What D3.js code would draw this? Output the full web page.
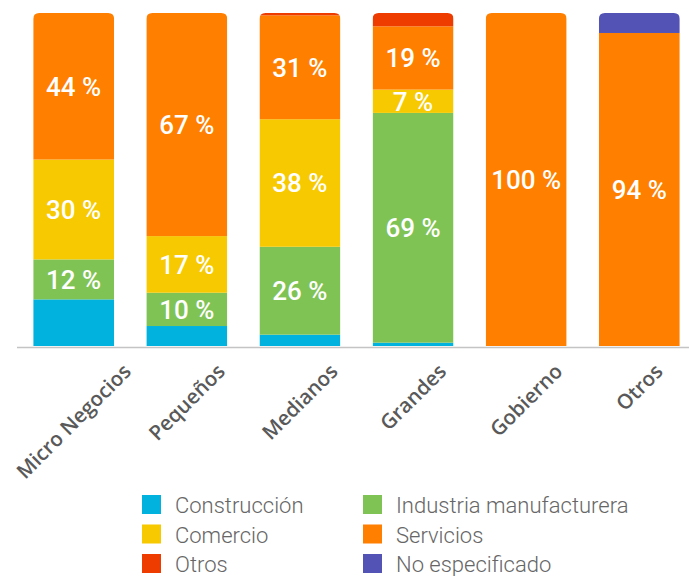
<!DOCTYPE html>
<html>
<head>
<meta charset="utf-8">
<script src="https://cdn.jsdelivr.net/npm/d3@7"></script>
<style>
  body { margin: 0; background: #fff; }
  svg { display: block; }
</style>
</head>
<body>
<svg id="chart" width="689" height="576"></svg>
<script>
// categories on the x axis
var categories = ['Micro Negocios', 'Pequeños', 'Medianos', 'Grandes', 'Gobierno', 'Otros'];

// share of each sector per category (%), bottom to top
var construccion = [14, 6, 3.4, 1, 0, 0];
var industria = [12, 10, 26.4, 69, 0, 0];
var comercio = [30, 17, 38.3, 7, 0, 0];
var servicios = [44, 67, 31.2, 19, 100, 94];
var otros = [0, 0, 0.7, 4, 0, 0];
var noEspecificado = [0, 0, 0, 0, 0, 6];

var seriesKeys = ['construccion', 'industria', 'comercio', 'servicios', 'otros', 'noEspecificado'];
var seriesNames = ['Construcción', 'Industria manufacturera', 'Comercio', 'Servicios', 'Otros', 'No especificado'];
var seriesColors = ['#00b2dd', '#80c355', '#f7c900', '#ff7f00', '#ee3c00', '#5353b5'];
// only these get a value label inside the bar
var labelled = ['industria', 'comercio', 'servicios'];

var seriesValues = {
  construccion: construccion,
  industria: industria,
  comercio: comercio,
  servicios: servicios,
  otros: otros,
  noEspecificado: noEspecificado
};

var table = categories.map(function(c, i) {
  var row = { cat: c };
  seriesKeys.forEach(function(k) { row[k] = seriesValues[k][i]; });
  return row;
});

var svg = d3.select('#chart');

var x = d3.scaleBand()
  .domain(categories)
  .range([1, 712])
  .paddingInner(0.285)
  .paddingOuter(0.285);

var y = d3.scaleLinear()
  .domain([0, 100])
  .range([346, 13]);

var color = d3.scaleOrdinal().domain(seriesKeys).range(seriesColors);

var stacked = d3.stack().keys(seriesKeys)(table);

// clip each bar so only the top corners are rounded
var r = 6;
var defs = svg.append('defs');
categories.forEach(function(c, i) {
  var x0 = x(c), x1 = x(c) + x.bandwidth(), top = y(100), bot = y(0);
  defs.append('clipPath')
    .attr('id', 'clip' + i)
    .append('path')
    .attr('d', 'M' + x0 + ',' + bot +
      'V' + (top + r) + 'Q' + x0 + ',' + top + ' ' + (x0 + r) + ',' + top +
      'H' + (x1 - r) + 'Q' + x1 + ',' + top + ' ' + x1 + ',' + (top + r) +
      'V' + bot + 'Z');
});

var bars = svg.append('g');
categories.forEach(function(c, i) {
  var g = bars.append('g').attr('clip-path', 'url(#clip' + i + ')');
  stacked.forEach(function(s) {
    var d = s[i];
    if (d[1] - d[0] <= 0) return;
    g.append('rect')
      .attr('x', x(c))
      .attr('y', y(d[1]))
      .attr('width', x.bandwidth())
      .attr('height', y(d[0]) - y(d[1]))
      .attr('fill', color(s.key));
  });
});

// value labels
var labels = svg.append('g')
  .attr('font-family', 'Roboto, sans-serif')
  .attr('font-weight', 500)
  .attr('font-size', 26)
  .attr('fill', '#fff')
  .attr('text-anchor', 'middle');
stacked.forEach(function(s) {
  if (labelled.indexOf(s.key) < 0) return;
  s.forEach(function(d, i) {
    var v = d[1] - d[0];
    if (v <= 0) return;
    var mid = (y(d[0]) + y(d[1])) / 2;
    labels.append('text')
      .attr('x', x(categories[i]) + x.bandwidth() / 2)
      .attr('y', mid + 9.5)
      .text(Math.round(v) + ' %');
  });
});

// baseline
svg.append('line')
  .attr('x1', 17).attr('x2', 689)
  .attr('y1', 347.5).attr('y2', 347.5)
  .attr('stroke', '#c4c4c4')
  .attr('stroke-width', 1.5);

// x axis labels, rotated, centred under each bar
var xAxis = svg.append('g')
  .call(d3.axisBottom(x).tickSize(0))
  .call(function(g) { g.select('.domain').remove(); });
xAxis.selectAll('text')
  .attr('font-family', '"Open Sans", sans-serif')
  .attr('font-weight', 600)
  .attr('font-size', 20.5)
  .attr('fill', '#595959')
  .attr('text-anchor', 'middle')
  .attr('dy', '0.35em')
  .attr('y', 0)
  .attr('transform', function() {
    var L = this.getComputedTextLength();
    var cy = 362 + (L / 2 + 8) * Math.SQRT1_2;
    return 'translate(0,' + cy + ') rotate(-45)';
  });

// legend
var legend = svg.append('g')
  .attr('font-family', 'Roboto, sans-serif')
  .attr('font-weight', 300)
  .attr('font-size', 22)
  .attr('fill', '#666');
var legendOrder = ['construccion', 'comercio', 'otros', 'industria', 'servicios', 'noEspecificado'];
legendOrder.forEach(function(k, i) {
  var col = Math.floor(i / 3), row = i % 3;
  var lx = 142 + col * 221, ly = 495 + row * 29.5;
  legend.append('rect')
    .attr('x', lx).attr('y', ly)
    .attr('width', 19).attr('height', 19)
    .attr('fill', color(k));
  legend.append('text')
    .attr('x', lx + 33)
    .attr('y', ly + 18)
    .text(seriesNames[seriesKeys.indexOf(k)]);
});
</script>
</body>
</html>
